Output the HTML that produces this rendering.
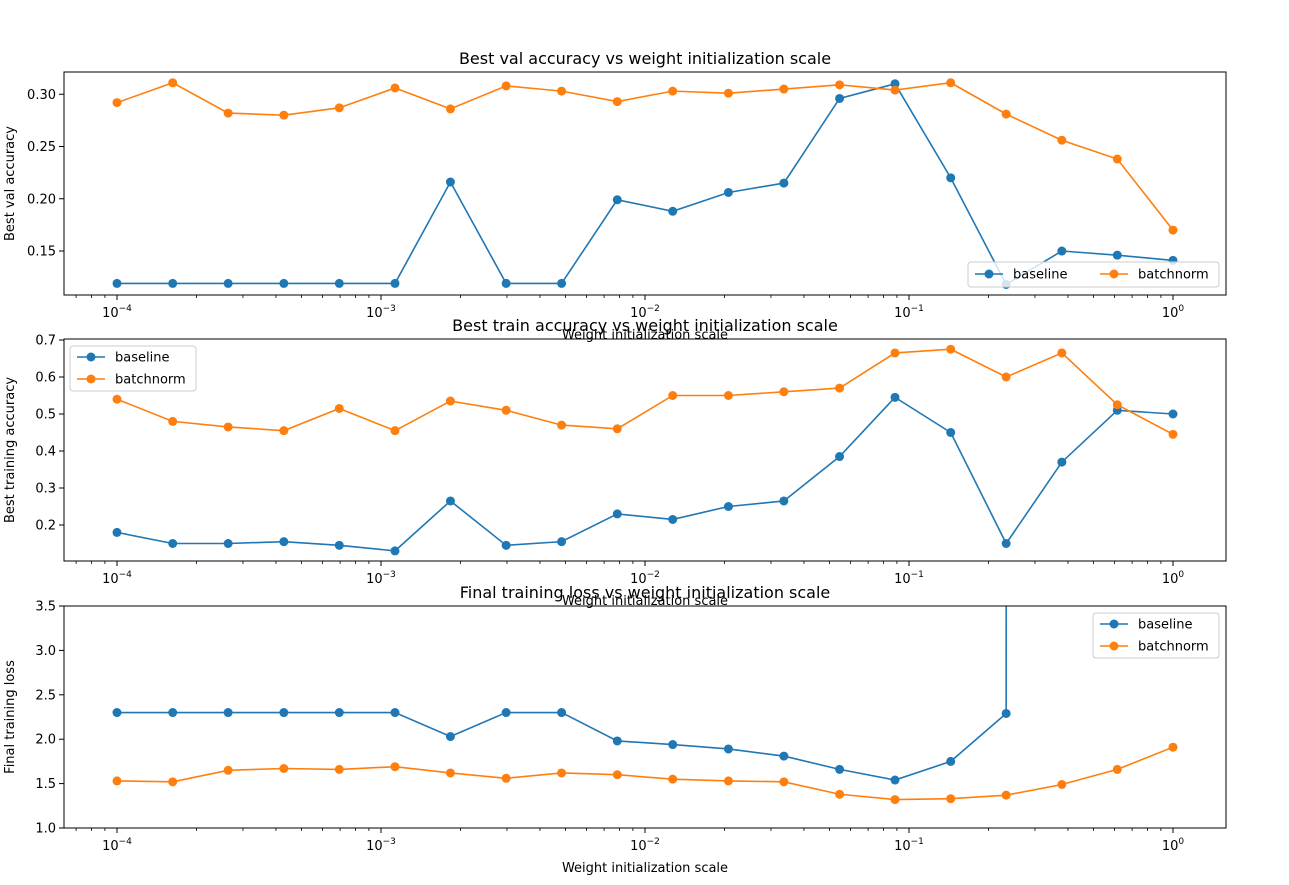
<!DOCTYPE html>
<html><head><meta charset="utf-8"><style>
body{margin:0;background:#fff}
svg{display:block;font-family:"DejaVu Sans","Liberation Sans",sans-serif}
</style></head><body>
<svg id="fig" width="1289" height="885" xmlns="http://www.w3.org/2000/svg"></svg>
<script>
const xExp = [-4,-3.789,-3.579,-3.368,-3.158,-2.947,-2.737,-2.526,-2.316,-2.105,-1.895,-1.684,-1.474,-1.263,-1.053,-0.842,-0.632,-0.421,-0.211,0];
const valBaseline = [0.119,0.119,0.119,0.119,0.119,0.119,0.216,0.119,0.119,0.199,0.188,0.206,0.215,0.296,0.310,0.220,0.118,0.150,0.146,0.141];
const valBatchnorm = [0.292,0.311,0.282,0.280,0.287,0.306,0.286,0.308,0.303,0.293,0.303,0.301,0.305,0.309,0.304,0.311,0.281,0.256,0.238,0.170];
const trainBaseline = [0.18,0.15,0.15,0.155,0.145,0.13,0.265,0.145,0.155,0.23,0.215,0.25,0.265,0.385,0.545,0.45,0.15,0.37,0.51,0.50];
const trainBatchnorm = [0.54,0.48,0.465,0.455,0.515,0.455,0.535,0.51,0.47,0.46,0.55,0.55,0.56,0.57,0.665,0.675,0.60,0.665,0.525,0.445];
const lossBaseline = [2.30,2.30,2.30,2.30,2.30,2.30,2.03,2.30,2.30,1.98,1.94,1.89,1.81,1.66,1.54,1.75,2.29,1e9,null,null];
const lossBatchnorm = [1.53,1.52,1.65,1.67,1.66,1.69,1.62,1.56,1.62,1.60,1.55,1.53,1.52,1.38,1.32,1.33,1.37,1.49,1.66,1.91];
const valTicks = [0.15,0.20,0.25,0.30];
const trainTicks = [0.2,0.3,0.4,0.5,0.6,0.7];
const lossTicks = [1.0,1.5,2.0,2.5,3.0,3.5];

const NS="http://www.w3.org/2000/svg";
const svg=document.getElementById('fig');
function mk(tag,attrs,parent,text){const e=document.createElementNS(NS,tag);for(const k in attrs)e.setAttribute(k,attrs[k]);if(text!=null)e.textContent=text;(parent||svg).appendChild(e);return e;}
const L=64,R=1226;
const xs=e=>117+(e+4)*264;
const C1='#1f77b4',C2='#ff7f0e';

function panel(id,top,bot,ymin,ymax,ticks,fmt,title,ylabel,s1,s2,leg){
  const g=mk('g',{},svg);
  
  
  const ys=v=>bot-(v-ymin)/(ymax-ymin)*(bot-top);
  const cid='clip-'+id;
  const cp=mk('clipPath',{id:cid},g);mk('rect',{x:L,y:top,width:R-L,height:bot-top},cp);
  // ticks x
  for(let d=-4;d<=0;d++){
    const x=xs(d);
    mk('line',{x1:x,y1:bot,x2:x,y2:bot+5,stroke:'#000','stroke-width':1},g);
    const t=mk('text',{x:x,y:bot+22,'font-size':13,'text-anchor':'middle'},g);
    if(d===0){t.textContent='10';const s=mk('tspan',{dy:-6,'font-size':9},t,'0');}
    else{t.textContent='10';mk('tspan',{dy:-6,'font-size':9},t,'\u2212'+(-d));}
    
  }
  for(let d=-5;d<=0;d++)for(let m=2;m<=9;m++){const x=xs(d+Math.log10(m));if(x>L&&x<R)mk('line',{x1:x,y1:bot,x2:x,y2:bot+3,stroke:'#000','stroke-width':0.8},g);}
  ticks.forEach(v=>{const y=ys(v);mk('line',{x1:L-5,y1:y,x2:L,y2:y,stroke:'#000'},g);
    const t=mk('text',{x:L-8,y:y+4.5,'font-size':13,'text-anchor':'end'},g,fmt(v));
    });
  const tt=mk('text',{x:645,y:top-8,'font-size':16,'text-anchor':'middle'},g,title);
  
  const xl=mk('text',{x:645,y:bot+44,'font-size':13,'text-anchor':'middle'},g,'Weight initialization scale');
  
  const yc=(top+bot)/2;
  const yl=mk('text',{x:0,y:0,'font-size':13,'text-anchor':'middle',transform:`translate(14,${yc}) rotate(-90)`},g,ylabel);
  
  [[s1,C1,'baseline'],[s2,C2,'batchnorm']].forEach(([s,c,n])=>{
    const sg=mk('g',{'clip-path':`url(#${cid})`},g);
    
    let d='',pen=false;
    s.forEach((v,i)=>{if(v==null){pen=false;return;}const y=Math.max(-1e5,ys(v));d+=(pen?'L':'M')+xs(xExp[i])+' '+y;pen=true;});
    mk('path',{d:d,fill:'none',stroke:c,'stroke-width':1.6},sg);
    s.forEach((v,i)=>{if(v==null)return;const p=mk('circle',{cx:xs(xExp[i]),cy:Math.max(-1e5,ys(v)),r:4.5,fill:c},sg);
      });
  });
  mk('rect',{x:L,y:top,width:R-L,height:bot-top,fill:'none',stroke:'#000','stroke-width':1},g);
  // legend
  const lg=mk('g',{},g);
  mk('rect',{x:leg.x,y:leg.y,width:leg.w,height:leg.h,rx:3,fill:'#fff','fill-opacity':0.8,stroke:'#ccc'},lg);
  leg.items.forEach(([lx,ly,c,n])=>{
    const e=mk('g',{},lg);
    mk('line',{x1:lx,y1:ly,x2:lx+28,y2:ly,stroke:c,'stroke-width':1.6},e);
    mk('circle',{cx:lx+14,cy:ly,r:4.5,fill:c},e);
    mk('text',{x:lx+38,y:ly+4.5,'font-size':13},e,n);
  });
}
panel('val',72,295,0.1079,0.3213,valTicks,v=>v.toFixed(2),'Best val accuracy vs weight initialization scale','Best val accuracy',valBaseline,valBatchnorm,
  {x:968,y:262,w:251,h:25,items:[[975,274,C1,'baseline'],[1100,274,C2,'batchnorm']]});
panel('train',339,561,0.1027,0.7027,trainTicks,v=>v.toFixed(1),'Best train accuracy vs weight initialization scale','Best training accuracy',trainBaseline,trainBatchnorm,
  {x:70,y:346,w:126,h:45,items:[[77,357,C1,'baseline'],[77,379,C2,'batchnorm']]});
panel('loss',606,828,1.0,3.5,lossTicks,v=>v.toFixed(1),'Final training loss vs weight initialization scale','Final training loss',lossBaseline,lossBatchnorm,
  {x:1093,y:613,w:126,h:45,items:[[1100,624,C1,'baseline'],[1100,646,C2,'batchnorm']]});
</script>
</body></html>
